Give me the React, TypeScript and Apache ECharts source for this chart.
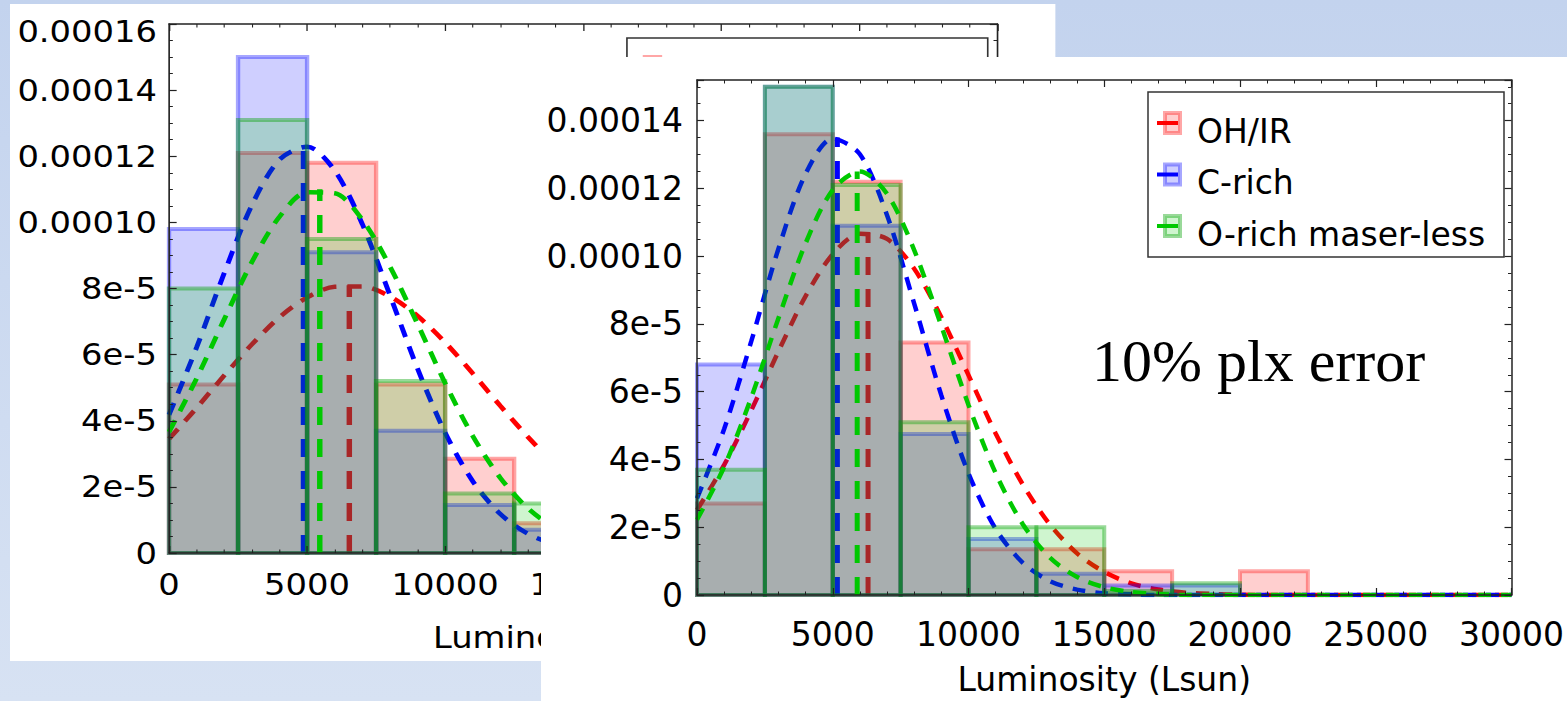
import React, { useEffect, useRef } from "react";
import * as echarts from "echarts";

// ---------- data ----------
const seriesNames = ["OH/IR", "C-rich", "O-rich maser-less"];
const binLo = [0, 2500, 5000, 7500, 10000, 12500, 15000, 17500, 20000, 22500, 25000, 27500];
const binWidth = 2500;

// left (background) figure: histogram heights per bin
const leftOHIR = [5.1e-5, 1.21e-4, 1.18e-4, 5.1e-5, 2.85e-5, 9e-6];
const leftCrich = [9.8e-5, 1.5e-4, 9.1e-5, 3.7e-5, 1.45e-5, 7e-6];
const leftOrich = [8.0e-5, 1.31e-4, 9.5e-5, 5.2e-5, 1.8e-5, 1.5e-5];

// right (front) figure: histogram heights per bin
const rightOHIR = [2.7e-5, 1.36e-4, 1.22e-4, 7.45e-5, 1.35e-5, 1.35e-5, 7.0e-6, 0, 7.0e-6, 0, 0, 0];
const rightCrich = [6.8e-5, 1.5e-4, 1.09e-4, 4.75e-5, 1.65e-5, 6.3e-6, 2.8e-6, 2.8e-6, 0, 0, 0, 0];
const rightOrich = [3.7e-5, 1.5e-4, 1.21e-4, 5.1e-5, 2.0e-5, 2.0e-5, 1.2e-6, 3.5e-6, 0, 0, 0, 0];

// fitted curves
const leftFitX = [0, 1000, 2000, 3000, 4000, 5000, 6000, 7000, 8000, 9000, 10000, 11000, 12000, 13000, 14000, 15000];
const leftFitOHIR = [3.45e-5, 4.39e-5, 5.37e-5, 6.31e-5, 7.13e-5, 7.73e-5, 8.05e-5, 8.06e-5, 7.76e-5, 7.17e-5, 6.37e-5, 5.43e-5, 4.45e-5, 3.51e-5, 2.65e-5, 1.93e-5];
const leftFitCrich = [4.18e-5, 6.22e-5, 8.47e-5, 1.052e-4, 1.19e-4, 1.229e-4, 1.157e-4, 9.95e-5, 7.8e-5, 5.58e-5, 3.64e-5, 2.17e-5, 1.18e-5, 5.8e-6, 2.6e-6, 1.1e-6];
const leftFitOrich = [3.66e-5, 5.28e-5, 7.07e-5, 8.8e-5, 1.017e-4, 1.091e-4, 1.088e-4, 1.008e-4, 8.67e-5, 6.93e-5, 5.14e-5, 3.54e-5, 2.27e-5, 1.35e-5, 7.4e-6, 3.8e-6];
const leftCenters = [[6530, 8.1e-5], [4870, 1.23e-4], [5460, 1.1e-4]];

const rightFitX = [0, 1000, 2000, 3000, 4000, 5000, 6000, 7000, 8000, 9000, 10000, 11000, 12000, 13000, 14000, 15000, 16000, 17000, 18000, 19000, 20000, 21000, 22000, 23000, 24000, 25000, 26000, 27000, 28000, 29000, 30000];
const rightFitOHIR = [2.51e-5, 3.84e-5, 5.45e-5, 7.19e-5, 8.82e-5, 1.006e-4, 1.066e-4, 1.051e-4, 9.63e-5, 8.2e-5, 6.49e-5, 4.77e-5, 3.26e-5, 2.08e-5, 1.23e-5, 6.8e-6, 3.4e-6, 1.6e-6, 7e-7, 3e-7, 1e-7, 0, 0, 0, 0, 0, 0, 0, 0, 0, 0];
const rightFitCrich = [2.85e-5, 4.9e-5, 7.49e-5, 1.022e-4, 1.243e-4, 1.347e-4, 1.301e-4, 1.121e-4, 8.6e-5, 5.89e-5, 3.59e-5, 1.95e-5, 9.5e-6, 4.1e-6, 1.6e-6, 5e-7, 2e-7, 0, 0, 0, 0, 0, 0, 0, 0, 0, 0, 0, 0, 0, 0];
const rightFitOrich = [2.22e-5, 3.78e-5, 5.83e-5, 8.17e-5, 1.038e-4, 1.196e-4, 1.25e-4, 1.184e-4, 1.018e-4, 7.94e-5, 5.61e-5, 3.6e-5, 2.09e-5, 1.1e-5, 5.3e-6, 2.3e-6, 9e-7, 3e-7, 0, 0, 0, 0, 0, 0, 0, 0, 0, 0, 0, 0, 0];
const rightCenters = [[6300, 1.07e-4], [5170, 1.35e-4], [5900, 1.25e-4]];

// tick labels (the back figure only shows what is not hidden by the front one)
const rightXTickLabels = ["0", "5000", "10000", "15000", "20000", "25000", "30000"];
const leftXTickLabels = ["0", "5000", "10000", "15000"];
const yTickLabels = ["0", "2e-5", "4e-5", "6e-5", "8e-5", "0.00010", "0.00012", "0.00014", "0.00016"];
const xName = "Luminosity (Lsun)";
const leftVisibleName = "Lumino";
const annotation = "10% plx error";

// ---------- styles ----------
const PALETTE = [
  { fill: "rgba(255,0,0,0.19)", edge: "rgba(255,0,0,0.35)", line: "#ff0000" },
  { fill: "rgba(0,0,255,0.19)", edge: "rgba(0,0,255,0.35)", line: "#0000ff" },
  { fill: "rgba(0,204,0,0.19)", edge: "rgba(0,160,0,0.4)", line: "#00c800" },
];
const AXIS = "#222";
const FONT = "DejaVu Sans";

const labelFrom = (list: string[], step: number, topRich?: number) => (v: number) => {
  const i = Math.round(v / step);
  if (Math.abs(v - i * step) >= step * 1e-6) return "";
  const s = list[i] ?? "";
  if (topRich !== undefined && i === topRich && s) return "{t|" + s + "}";
  return s;
};

function legendGraphics(L: any) {
  const els: any[] = [
    { type: "rect", z: 50, shape: { x: L.x, y: L.y, width: L.w, height: L.h }, style: { fill: "#fff", stroke: "#333", lineWidth: 1.5 } },
  ];
  seriesNames.forEach((name, k) => {
    const cy = L.rowY[k];
    const c = PALETTE[k];
    els.push({ type: "rect", z: 50, shape: { x: L.iconX, y: cy - 18, width: L.iconW, height: 20 }, style: { fill: c.fill, stroke: c.edge, lineWidth: 4 } });
    els.push({ type: "line", z: 50, shape: { x1: L.lineX0, y1: cy - 8, x2: L.lineX1, y2: cy - 8 }, style: { stroke: c.line, lineWidth: 4 } });
    if (L.showText) {
      els.push({ type: "text", z: 50, x: L.textX, y: cy, style: { text: name, fontSize: L.fontSize, fontFamily: FONT, fill: "#000", verticalAlign: "middle", align: "left" } });
    }
  });
  return els;
}

function buildOption(p: any) {
  const series: any[] = [];
  for (let k = 0; k < 3; k++) {
    const c = PALETTE[k];
    const hd = p.hists[k]
      .map((v: number, i: number) => [binLo[i], binLo[i] + binWidth, v])
      .filter((d: number[]) => d[2] > 0);
    series.push({
      type: "custom",
      name: seriesNames[k],
      z: 2 + 2 * k,
      silent: true,
      data: hd,
      encode: { x: [0, 1], y: 2 },
      renderItem: (_params: any, api: any) => {
        const a = api.coord([api.value(0), api.value(2)]);
        const b = api.coord([api.value(1), 0]);
        return {
          type: "rect",
          shape: { x: a[0], y: a[1], width: b[0] - a[0], height: b[1] - a[1] },
          style: { fill: c.fill, stroke: c.edge, lineWidth: 4 },
        };
      },
    });
    series.push({
      type: "line",
      z: 3 + 2 * k,
      silent: true,
      symbol: "none",
      smooth: 0.3,
      data: p.fitX.map((x: number, i: number) => [x, p.fits[k][i]]),
      lineStyle: { color: c.line, width: 4.5, type: [13, 10] },
    });
    series.push({
      type: "line",
      z: 3 + 2 * k,
      silent: true,
      symbol: "none",
      data: [[p.centers[k][0], 0], [p.centers[k][0], p.centers[k][1]]],
      lineStyle: { color: c.line, width: 5, type: [18, 14] },
    });
  }

  const xAxis = (pos: string, show: boolean) => ({
    type: "value",
    position: pos,
    min: 0,
    max: 30000,
    interval: 5000,
    z: 20,
    axisLine: { show: true, onZero: false, lineStyle: { color: AXIS, width: 1.5 } },
    axisTick: { show: true, inside: true, length: 7, lineStyle: { color: AXIS, width: 1.2 } },
    minorTick: { show: true, splitNumber: 5, length: 3.5, lineStyle: { color: AXIS, width: 1 } },
    splitLine: { show: false },
    minorSplitLine: { show: false },
    axisLabel: {
      show,
      fontSize: p.fontSize,
      fontFamily: FONT,
      color: "#000",
      margin: p.xLabelMargin,
      formatter: labelFrom(p.xLabels, 5000),
    },
    name: show && p.showName ? xName : "",
    nameLocation: "middle",
    nameGap: p.nameGap,
    nameTextStyle: { fontSize: p.fontSize, fontFamily: FONT, color: "#000" },
  });
  const yAxis = (pos: string, show: boolean) => ({
    type: "value",
    position: pos,
    min: 0,
    max: p.yMax,
    interval: 2e-5,
    z: 20,
    axisLine: { show: true, onZero: false, lineStyle: { color: AXIS, width: 1.5 } },
    axisTick: { show: true, inside: true, length: 7, lineStyle: { color: AXIS, width: 1.2 } },
    minorTick: { show: true, splitNumber: 4, length: 3.5, lineStyle: { color: AXIS, width: 1 } },
    splitLine: { show: false },
    minorSplitLine: { show: false },
    axisLabel: {
      show,
      fontSize: p.fontSize,
      fontFamily: FONT,
      color: "#000",
      margin: p.yLabelMargin,
      formatter: labelFrom(yTickLabels, 2e-5, p.topLabelIndex),
      rich: {
        t: { fontSize: p.fontSize, fontFamily: FONT, color: "#000", padding: [14, 0, 0, 0] },
      },
    },
  });

  return {
    animation: false,
    backgroundColor: "#ffffff",
    grid: p.grid,
    xAxis: [xAxis("bottom", true), xAxis("top", false)],
    yAxis: [yAxis("left", true), yAxis("right", false)],
    series,
    graphic: { elements: p.graphics },
  };
}

const LEFT_SX = 1.09;

const leftOption = buildOption({
  hists: [leftOHIR, leftCrich, leftOrich],
  fitX: leftFitX,
  fits: [leftFitOHIR, leftFitCrich, leftFitOrich],
  centers: leftCenters,
  xLabels: leftXTickLabels,
  showName: false,
  topLabelIndex: 8,
  yMax: 0.00016,
  fontSize: 31,
  xLabelMargin: 16,
  yLabelMargin: 11,
  nameGap: 68,
  grid: { left: 145.9, right: 53.2, top: 20, bottom: 108, containLabel: false },
  graphics: [
    ...legendGraphics({
      x: 566, y: 34, w: 331, h: 165,
      rowY: [71, 122.5, 174],
      iconX: 582.5, iconW: 13.8,
      lineX0: 574.3, lineX1: 593.6,
      textX: 611, fontSize: 31, showText: false,
    }),
    {
      type: "text",
      z: 50,
      x: 388,
      y: 633.5,
      style: { text: leftVisibleName, fontSize: 31, fontFamily: FONT, fill: "#000", verticalAlign: "middle", align: "left" },
    },
  ],
});

const rightOption = buildOption({
  hists: [rightOHIR, rightCrich, rightOrich],
  fitX: rightFitX,
  fits: [rightFitOHIR, rightFitCrich, rightFitOrich],
  centers: rightCenters,
  xLabels: rightXTickLabels,
  showName: true,
  yMax: 0.000152,
  fontSize: 33,
  xLabelMargin: 23,
  yLabelMargin: 14,
  nameGap: 68,
  grid: { left: 156, right: 55, top: 23, bottom: 101.5, containLabel: false },
  graphics: [
    ...legendGraphics({
      x: 607, y: 35, w: 356, h: 165,
      rowY: [74, 125.5, 177],
      iconX: 624, iconW: 15,
      lineX0: 616, lineX1: 637,
      textX: 656, fontSize: 33, showText: true,
    }),
    {
      type: "text",
      z: 50,
      x: 551,
      y: 304,
      style: { text: annotation, fontSize: 60, fontFamily: "Liberation Serif", fill: "#000", verticalAlign: "middle", align: "left" },
    },
  ],
});

function ChartBox({ option, style }: { option: any; style: React.CSSProperties }) {
  const ref = useRef<HTMLDivElement>(null);
  useEffect(() => {
    if (!ref.current) return;
    const chart = echarts.init(ref.current, undefined, { renderer: "svg" });
    chart.setOption(option);
    return () => chart.dispose();
  }, [option]);
  return <div ref={ref} style={style} />;
}

export default function App() {
  return (
    <div
      style={{
        position: "absolute",
        left: 0,
        top: 0,
        width: 1567,
        height: 701,
        overflow: "hidden",
        background: "linear-gradient(to bottom, #c3d3ee 0%, #d7e2f3 100%)",
      }}
    >
      <ChartBox
        option={leftOption}
        style={{
          position: "absolute",
          left: 10,
          top: 4,
          width: 1045 / LEFT_SX,
          height: 657,
          background: "#fff",
          transform: `scaleX(${LEFT_SX})`,
          transformOrigin: "0 0",
        }}
      />
      <ChartBox
        option={rightOption}
        style={{ position: "absolute", left: 541, top: 57, width: 1026, height: 644, background: "#fff" }}
      />
    </div>
  );
}
